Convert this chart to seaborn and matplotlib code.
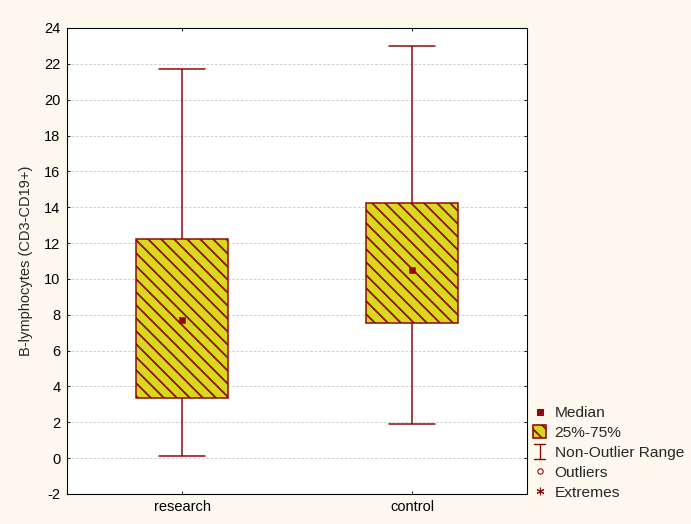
import numpy as np
import pandas as pd
import matplotlib
matplotlib.use("Agg")
import matplotlib.pyplot as plt
from matplotlib.lines import Line2D
from matplotlib.patches import Rectangle
from matplotlib.legend_handler import HandlerBase
import seaborn as sns

# Group summaries: min, lower quartile, median, upper quartile, max
groups = ["research", "control"]
mins = [0.1, 1.9]
q1s = [3.35, 7.55]
medians = [7.7, 10.5]
q3s = [12.2, 14.25]
maxs = [21.7, 23.0]

y_ticks = list(range(-2, 25, 2))
y_label = "B-lymphocytes (CD3-CD19+)"
legend_labels = ["Median", "25%-75%", "Non-Outlier Range", "Outliers", "Extremes"]

DARK = "#8C0A0A"
FILL = "#D8D81E"
BG = "#FEF9EF"
FS = 13.5

# five values per group reproduce the quartiles exactly under linear interpolation
rows = []
for g, a, b, c, d, e in zip(groups, mins, q1s, medians, q3s, maxs):
    for v in (a, b, c, d, e):
        rows.append({"group": g, "value": v})
df = pd.DataFrame(rows)

sns.set_style("white")
plt.rcParams["font.family"] = ["Liberation Sans", "DejaVu Sans"]
plt.rcParams["hatch.linewidth"] = 1.6
plt.rcParams["axes.unicode_minus"] = False

DPI = 78
fig = plt.figure(figsize=(691 / DPI, 524 / DPI), dpi=DPI, facecolor=BG)
ax = fig.add_axes([0.097, 0.0573, 0.666, 0.8893])
ax.set_facecolor("white")

sns.boxplot(data=df, x="group", y="value", order=groups, whis=(0, 100),
            width=0.4, color=FILL, linecolor=DARK, linewidth=1.4,
            showfliers=False, medianprops={"visible": False}, ax=ax)
for p in ax.patches:
    p.set_hatch("\\\\")
    p.set_facecolor(FILL)
    p.set_edgecolor(DARK)

sns.scatterplot(x=groups, y=medians, marker="s", color=DARK, s=40,
                edgecolor=DARK, linewidth=0.5, ax=ax, zorder=5, legend=False)

ax.set_xlim(-0.5, 1.5)
ax.set_ylim(-2, 24)
ax.set_yticks(y_ticks)
ax.yaxis.grid(True, linestyle=(0, (3, 2)), color="#C8C8C8", linewidth=0.8)
ax.set_axisbelow(True)
for s in ax.spines.values():
    s.set_color("black")
    s.set_linewidth(1.0)
ax.tick_params(axis="both", direction="in", length=3, width=0.8, colors="black",
               labelsize=FS, top=True, right=True, bottom=True, left=True,
               pad=6)
ax.set_xlabel("")
ax.set_ylabel(y_label, fontsize=FS, labelpad=10)


class WhiskerHandler(HandlerBase):
    def create_artists(self, legend, orig_handle, xdescent, ydescent,
                       width, height, fontsize, trans):
        cx = width * 0.45
        h = height * 1.35
        y0 = height / 2 - h / 2
        arts = [
            Line2D([cx, cx], [y0, y0 + h], color=DARK, lw=1.3),
            Line2D([cx - 5, cx + 5], [y0 + h, y0 + h], color=DARK, lw=1.3),
            Line2D([cx - 5, cx + 5], [y0, y0], color=DARK, lw=1.3),
        ]
        for a in arts:
            a.set_transform(trans)
        return arts


class BoxHandler(HandlerBase):
    def create_artists(self, legend, orig_handle, xdescent, ydescent,
                       width, height, fontsize, trans):
        s = height * 1.2
        r = Rectangle((width * 0.45 - s / 2, height / 2 - s / 2), s, s,
                      facecolor=FILL, edgecolor=DARK, hatch="\\\\", lw=1.5,
                      transform=trans)
        return [r]


h_med = Line2D([], [], marker="s", color=DARK, linestyle="none", markersize=5.5)
h_box = Rectangle((0, 0), 1, 1)
h_whisk = Line2D([], [])
h_out = Line2D([], [], marker="o", markerfacecolor="none", markeredgecolor=DARK,
               linestyle="none", markersize=5, markeredgewidth=1)
h_ext = Line2D([], [], marker=(6, 2, 0), color=DARK, linestyle="none",
               markersize=7, markeredgewidth=1)

fig.legend([h_med, h_box, h_whisk, h_out, h_ext], legend_labels,
           handler_map={h_whisk: WhiskerHandler(), h_box: BoxHandler()},
           loc="upper left", bbox_to_anchor=(533 / 691, 1 - 406 / 524),
           frameon=False, fontsize=14.3, handlelength=0.95, handletextpad=0.45,
           labelspacing=0.38, borderaxespad=0, borderpad=0)

fig.savefig("out.png", dpi=DPI, facecolor=BG)
